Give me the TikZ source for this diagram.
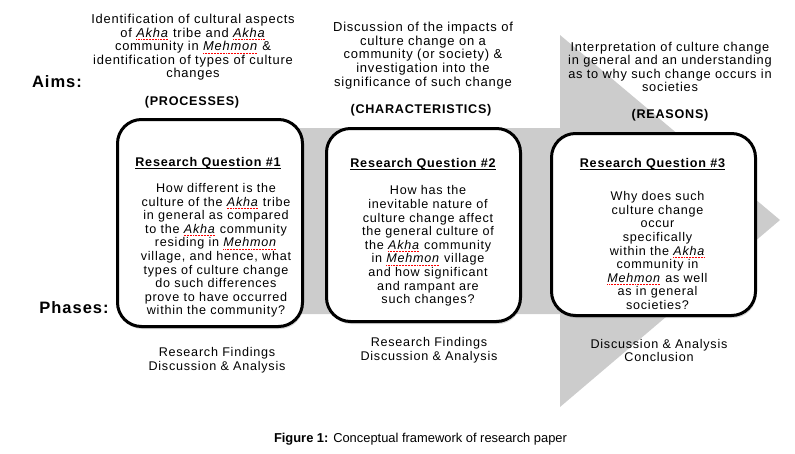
\documentclass[tikz,border=0pt]{standalone}
\usepackage{fontspec}
\setmainfont{Liberation Sans}[LetterSpace=6]
\newfontfamily\capfont{Liberation Sans}
\usetikzlibrary{shadows}

% red spell-check marks under the italic names
\newcommand\spell[1]{\leavevmode\setbox0\hbox{\textit{#1}}\rlap{\color{red}\lower2.3pt\hbox to\wd0{\xleaders\hbox{\rule{0.8pt}{0.6pt}\kern0.7pt}\hfil}}\box0\relax}
% underlined titles
\newcommand\qline[1]{\leavevmode\setbox0\hbox{#1}\rlap{\lower2.2pt\hbox{\rule{\wd0}{0.8pt}}}\box0\relax}

\tikzset{
  aim/.style={align=center, inner sep=0pt, font=\fontsize{12.6}{13.6}\selectfont},
  tag/.style={inner sep=0pt, font=\bfseries\fontsize{12.6}{13.6}\selectfont},
  side/.style={inner sep=0pt, font=\bfseries\fontsize{16.5}{18}\selectfont},
  qbox/.style={draw, line width=3pt, rounded corners=24pt, fill=white, inner sep=0pt,
    drop shadow={shadow xshift=1pt, shadow yshift=-2.5pt, opacity=.35}},
  qtitle/.style={tag},
  qtext/.style={aim}
}

\begin{document}
\begin{tikzpicture}[x=1pt, y=-1pt]
    \useasboundingbox (0,0) rectangle (795,453);
    % big grey arrow
    \fill[black!20] (200,128) -- (560,128) -- (560,35) -- (780,220) -- (560,407) -- (560,314) -- (200,314) -- cycle;

    \node[side] (aims) at (57,82) {Aims:};
    \node[side] (phases) at (74,308) {Phases:};

    \node[aim, font=\fontsize{12.9}{13.5}\selectfont] (aim1) at (193,47.5) {Identification of cultural aspects\\ of \spell{Akha} tribe and \spell{Akha}\\ community in \spell{Mehmon} \&\\ identification of types of culture\\ changes};
    \node[aim, font=\fontsize{13}{13.6}\selectfont] (aim2) at (423,55.5) {Discussion of the impacts of\\ culture change on a\\ community (or society) \&\\ investigation into the\\ significance of such change};
    \node[aim, font=\fontsize{12.8}{13.5}\selectfont] (aim3) at (670,67) {Interpretation of culture change\\ in general and an understanding\\ as to why such change occurs in\\ societies};

    \node[tag] (proc) at (192,102) {(PROCESSES)};
    \node[tag] (char) at (421,110) {(CHARACTERISTICS)};
    \node[tag] (reas) at (670,115) {(REASONS)};

    \node[qbox, minimum width=185pt, minimum height=207pt] (q1) at (210,223) {};
    \node[qbox, minimum width=194pt, minimum height=193pt] (q2) at (423.5,225) {};
    \node[qbox, minimum width=204pt, minimum height=182pt] (q3) at (653.5,224.5) {};

    \node[qtitle] (t1) at (208,163) {\qline{Research Question \#1}};
    \node[qtitle] (t2) at (423,164) {\qline{Research Question \#2}};
    \node[qtitle] (t3) at (652.5,164) {\qline{Research Question \#3}};

    \node[qtext] (b1) at (216,250.5) {How different is the\\ culture of the \spell{Akha} tribe\\ in general as compared\\ to the \spell{Akha} community\\ residing in \spell{Mehmon}\\ village, and hence, what\\ types of culture change\\ do such differences\\ prove to have occurred\\ within the community?};
    \node[qtext] (b2) at (428,246) {How has the\\ inevitable nature of\\ culture change affect\\ the general culture of\\ the \spell{Akha} community\\ in \spell{Mehmon} village\\ and how significant\\ and rampant are\\ such changes?};
    \node[qtext] (b3) at (657.5,250.5) {Why does such\\ culture change\\ occur\\ specifically\\ within the \spell{Akha}\\ community in\\ \spell{Mehmon} as well\\ as in general\\ societies?};

    \node[aim] (p1) at (217,360) {Research Findings\\ Discussion \& Analysis};
    \node[aim] (p2) at (429,350.5) {Research Findings\\ Discussion \& Analysis};
    \node[aim] (p3) at (659,350.5) {Discussion \& Analysis\\ Conclusion};

    \node[inner sep=0pt, font=\capfont\fontsize{12.9}{14}\selectfont] (cap) at (420.5,439) {\textbf{Figure 1:} Conceptual framework of research paper};
\end{tikzpicture}
\end{document}
